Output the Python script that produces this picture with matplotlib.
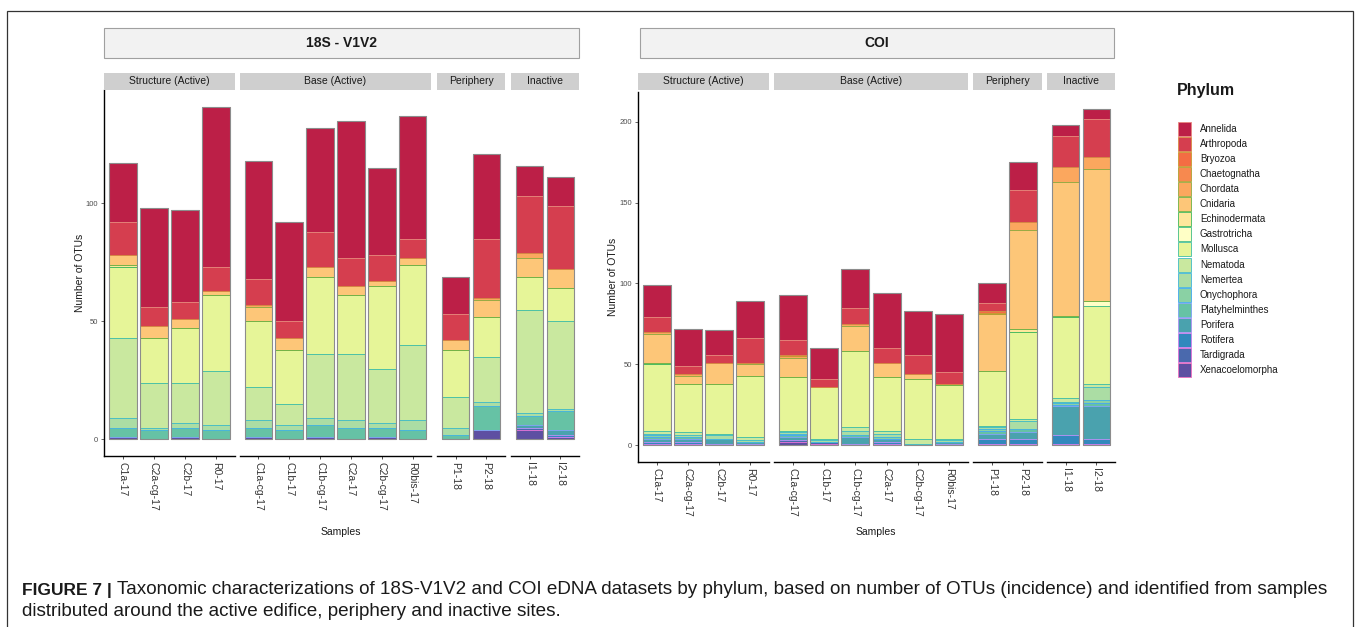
import matplotlib
matplotlib.use("Agg")
import matplotlib.pyplot as plt
from matplotlib.patches import Rectangle
import numpy as np

plt.rcParams['font.family'] = ['Liberation Sans', 'DejaVu Sans']

# ---------------- data ----------------
samples = ["C1a-17", "C2a-cg-17", "C2b-17", "R0-17",
           "C1a-cg-17", "C1b-17", "C1b-cg-17", "C2a-17", "C2b-cg-17", "R0bis-17",
           "P1-18", "P2-18", "I1-18", "I2-18"]
facet_names = ["Structure (Active)", "Base (Active)", "Periphery", "Inactive"]
facet_sizes = [4, 6, 2, 2]
panel_titles = ["18S - V1V2", "COI"]

phyla = ["Annelida", "Arthropoda", "Bryozoa", "Chaetognatha", "Chordata", "Cnidaria",
         "Echinodermata", "Gastrotricha", "Mollusca", "Nematoda", "Nemertea",
         "Onychophora", "Platyhelminthes", "Porifera", "Rotifera", "Tardigrada",
         "Xenacoelomorpha"]

# 18S - V1V2 OTU counts per phylum (sample order as above)
s18_annelida        = [25, 42, 39, 68, 50, 42, 44, 58, 37, 52, 16, 36, 13, 12]
s18_arthropoda      = [14, 8, 7, 10, 11, 7, 15, 12, 11, 8, 11, 25, 24, 27]
s18_bryozoa         = [0, 0, 0, 0, 0, 0, 0, 0, 0, 0, 0, 0, 0, 0]
s18_chaetognatha    = [0, 0, 0, 0, 0, 0, 0, 0, 0, 0, 0, 0, 0, 0]
s18_chordata        = [0, 0, 0, 0, 1, 0, 0, 0, 0, 0, 0, 1, 2, 0]
s18_cnidaria        = [4, 5, 4, 2, 6, 5, 4, 4, 2, 3, 4, 7, 8, 8]
s18_echinodermata   = [1, 0, 0, 0, 0, 0, 0, 0, 0, 0, 0, 0, 0, 0]
s18_gastrotricha    = [0, 0, 0, 0, 0, 0, 0, 0, 0, 0, 0, 0, 0, 0]
s18_mollusca        = [30, 19, 23, 32, 28, 23, 33, 25, 35, 34, 20, 17, 14, 14]
s18_nematoda        = [34, 19, 17, 23, 14, 9, 27, 28, 23, 32, 13, 19, 44, 37]
s18_nemertea        = [4, 1, 2, 2, 3, 2, 3, 3, 2, 4, 3, 2, 1, 1]
s18_onychophora     = [0, 0, 0, 0, 0, 0, 0, 0, 0, 0, 0, 0, 0, 0]
s18_platyhelminthes = [4, 4, 4, 4, 4, 4, 5, 5, 4, 4, 2, 10, 4, 8]
s18_porifera        = [0, 0, 0, 0, 0, 0, 0, 0, 0, 0, 0, 0, 1, 2]
s18_rotifera        = [0, 0, 0, 0, 0, 0, 0, 0, 0, 0, 0, 0, 0, 1]
s18_tardigrada      = [0, 0, 0, 0, 0, 0, 0, 0, 0, 0, 0, 0, 1, 0]
s18_xenacoelomorpha = [1, 0, 1, 0, 1, 0, 1, 0, 1, 0, 0, 4, 4, 1]

# COI OTU counts per phylum
coi_annelida        = [20, 23, 15, 23, 28, 19, 24, 34, 27, 36, 12, 17, 7, 6]
coi_arthropoda      = [9, 5, 5, 15, 9, 5, 10, 9, 12, 7, 5, 20, 19, 24]
coi_bryozoa         = [0, 0, 0, 0, 1, 0, 0, 0, 0, 0, 1, 0, 0, 0]
coi_chaetognatha    = [0, 0, 0, 0, 0, 0, 0, 0, 0, 0, 1, 0, 0, 0]
coi_chordata        = [1, 1, 0, 1, 1, 0, 1, 0, 0, 0, 0, 5, 9, 7]
coi_cnidaria        = [18, 5, 13, 7, 12, 0, 16, 9, 3, 1, 35, 61, 83, 82]
coi_echinodermata   = [1, 0, 0, 0, 0, 0, 0, 0, 0, 0, 0, 2, 1, 0]
coi_gastrotricha    = [0, 0, 0, 0, 0, 0, 0, 0, 0, 0, 0, 0, 0, 3]
coi_mollusca        = [41, 30, 31, 38, 33, 32, 47, 33, 37, 33, 34, 54, 50, 48]
coi_nematoda        = [2, 2, 1, 2, 1, 1, 2, 2, 3, 1, 1, 1, 2, 2]
coi_nemertea        = [1, 1, 2, 1, 1, 1, 3, 2, 0, 1, 1, 5, 1, 8]
coi_onychophora     = [1, 0, 0, 0, 1, 0, 0, 1, 0, 0, 1, 0, 1, 2]
coi_platyhelminthes = [1, 1, 0, 0, 1, 0, 1, 0, 0, 0, 2, 2, 1, 2]
coi_porifera        = [2, 2, 3, 1, 2, 0, 4, 2, 0, 1, 3, 4, 18, 20]
coi_rotifera        = [1, 1, 0, 0, 0, 0, 0, 1, 0, 1, 3, 3, 5, 3]
coi_tardigrada      = [0, 0, 0, 0, 1, 1, 0, 0, 0, 0, 0, 0, 0, 0]
coi_xenacoelomorpha = [1, 1, 1, 1, 2, 1, 1, 1, 1, 0, 1, 1, 1, 1]

s18_counts = [s18_annelida, s18_arthropoda, s18_bryozoa, s18_chaetognatha, s18_chordata,
              s18_cnidaria, s18_echinodermata, s18_gastrotricha, s18_mollusca, s18_nematoda,
              s18_nemertea, s18_onychophora, s18_platyhelminthes, s18_porifera, s18_rotifera,
              s18_tardigrada, s18_xenacoelomorpha]
coi_counts = [coi_annelida, coi_arthropoda, coi_bryozoa, coi_chaetognatha, coi_chordata,
              coi_cnidaria, coi_echinodermata, coi_gastrotricha, coi_mollusca, coi_nematoda,
              coi_nemertea, coi_onychophora, coi_platyhelminthes, coi_porifera, coi_rotifera,
              coi_tardigrada, coi_xenacoelomorpha]

# ---------------- styles ----------------
fill_colors = ["#BC1F47", "#D53E4F", "#F46D43", "#F7894F", "#FBA75E", "#FDC678",
               "#FEE79C", "#FFFFC6", "#E6F598", "#C9E89F", "#ABDDA4", "#8AD1A4",
               "#66C2A5", "#4AA2AE", "#3288BD", "#4A69AD", "#5E4FA2"]
edge_colors = ["#E8877F", "#D98B45", "#C89A30", "#B0A030", "#93AA40", "#6EB040",
               "#40B858", "#40BC84", "#40BEA4", "#40BCC4", "#40B4DC", "#40A8F0",
               "#7AA2F4", "#AE92F4", "#D080F0", "#E070D8", "#F070C0"]

W, H = 1360, 627
fig = plt.figure(figsize=(W / 100, H / 100), dpi=100)


def fx(x):
    return x / W


def fy(y):
    return 1 - y / H


def add_ax(x0, x1, y0, y1):
    return fig.add_axes([fx(x0), fy(y1), fx(x1) - fx(x0), fy(y0) - fy(y1)])


# outer frame
fig.add_artist(Rectangle((fx(7), fy(700)), fx(1353) - fx(7), fy(11) - fy(700),
                         transform=fig.transFigure, fill=False, edgecolor="#333333",
                         linewidth=0.9))

panels = [
    dict(counts=s18_counts, ymax_ticks=[0, 50, 100],
         facets_x=[(104, 235), (240, 431), (437, 505), (511, 579)],
         y0=90, y1=456, strip=(104, 579), ylab_x=80, xlab_x=341),
    dict(counts=coi_counts, ymax_ticks=[0, 50, 100, 150, 200],
         facets_x=[(638, 769), (774, 968), (973, 1042), (1047, 1115)],
         y0=92, y1=462, strip=(640, 1114), ylab_x=613, xlab_x=876),
]

for p_i, p in enumerate(panels):
    counts = np.array(p["counts"], dtype=float)  # phyla x samples
    totals = counts.sum(axis=0)
    ymax = totals.max()
    ylim = (-0.05 * ymax, 1.05 * ymax)

    # panel title strip
    sx0, sx1 = p["strip"]
    fig.add_artist(Rectangle((fx(sx0), fy(58)), fx(sx1) - fx(sx0), fy(28) - fy(58),
                             transform=fig.transFigure, facecolor="#F2F2F2",
                             edgecolor="#A0A0A0", linewidth=0.8))
    fig.text(fx((sx0 + sx1) / 2), fy(43), panel_titles[p_i], ha="center", va="center",
             fontsize=10, fontweight="bold", color="#1A1A1A")

    start = 0
    for f_i, n in enumerate(facet_sizes):
        x0, x1 = p["facets_x"][f_i]
        ax = add_ax(x0, x1, p["y0"], p["y1"])
        idx = list(range(start, start + n))
        xs = np.arange(n)
        bottom = np.zeros(n)
        for k in range(len(phyla) - 1, -1, -1):
            vals = counts[k, idx]
            ax.bar(xs, vals, width=0.9, bottom=bottom, color=fill_colors[k],
                   edgecolor=edge_colors[k], linewidth=0.6)
            bottom += vals
        ax.bar(xs, totals[idx], width=0.9, fill=False, edgecolor="#8C8C8C",
               linewidth=0.8)
        ax.set_xlim(-0.6, n - 0.4)
        ax.set_ylim(*ylim)
        ax.set_xticks(xs)
        ax.set_xticklabels([samples[i] for i in idx], rotation=270, fontsize=7.5,
                           color="#333333")
        for sp in ["top", "right"]:
            ax.spines[sp].set_visible(False)
        ax.spines["bottom"].set_linewidth(1.0)
        ax.spines["bottom"].set_color("black")
        ax.tick_params(axis="x", length=2.5, width=0.6, pad=2, colors="#333333")
        if f_i == 0:
            ax.spines["left"].set_linewidth(1.0)
            ax.spines["left"].set_color("black")
            ax.set_yticks(p["ymax_ticks"])
            ax.tick_params(axis="y", length=2.5, width=0.6, pad=2, labelsize=5.5,
                           colors="#4D4D4D")
        else:
            ax.spines["left"].set_visible(False)
            ax.set_yticks([])
        ax.patch.set_alpha(0)

        # facet strip
        fig.add_artist(Rectangle((fx(x0), fy(90)), fx(x1) - fx(x0), fy(73) - fy(90),
                                 transform=fig.transFigure, facecolor="#CFCFCF",
                                 edgecolor="none"))
        fig.text(fx((x0 + x1) / 2), fy(81.5), facet_names[f_i], ha="center",
                 va="center", fontsize=7.5, color="#1A1A1A")
        start += n

    fig.text(fx(p["ylab_x"]), fy((p["y0"] + p["y1"]) / 2), "Number of OTUs",
             rotation=90, ha="center", va="center", fontsize=7.5, color="#1A1A1A")
    fig.text(fx(p["xlab_x"]), fy(532), "Samples", ha="center", va="center",
             fontsize=7.5, color="#1A1A1A")

# legend
fig.text(fx(1177), fy(91), "Phylum", ha="left", va="center", fontsize=11.5,
         fontweight="bold", color="#1A1A1A")
for k, name in enumerate(phyla):
    yc = 129 + k * 15.06
    fig.add_artist(Rectangle((fx(1178), fy(yc + 7)), fx(13), fy(0) - fy(14),
                             transform=fig.transFigure, facecolor=fill_colors[k],
                             edgecolor=edge_colors[k], linewidth=0.6))
    fig.text(fx(1200), fy(yc), name, ha="left", va="center", fontsize=7,
             color="#1A1A1A")

# caption
t1 = fig.text(fx(22), fy(590), "FIGURE 7 |", ha="left", va="center", fontsize=12.5,
              fontweight="bold", color="#1A1A1A")
fig.canvas.draw()
bb = t1.get_window_extent()
fig.text(bb.x1 / W + fx(5), fy(590),
         "Taxonomic characterizations of 18S-V1V2 and COI eDNA datasets by phylum, based on "
         "number of OTUs (incidence) and identified from samples",
         ha="left", va="center", fontsize=13.6, color="#1A1A1A")
fig.text(fx(22), fy(612), "distributed around the active edifice, periphery and inactive sites.",
         ha="left", va="center", fontsize=13.6, color="#1A1A1A")

fig.savefig("out.png", dpi=100)
